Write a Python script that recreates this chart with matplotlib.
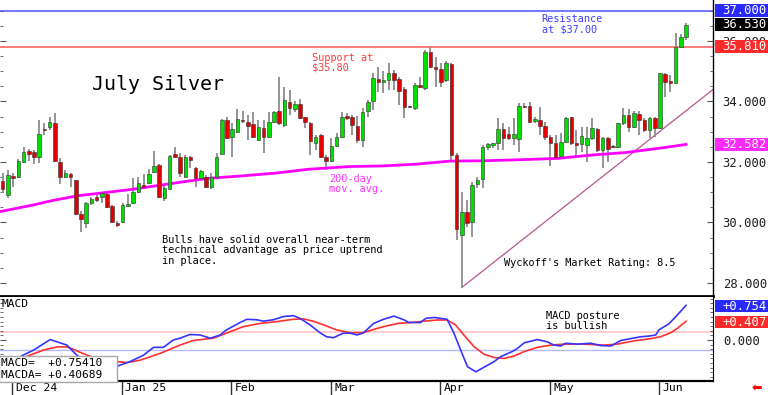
import numpy as np
import matplotlib
matplotlib.use("Agg")
import matplotlib.pyplot as plt
from matplotlib import transforms
from matplotlib.patches import Rectangle
from matplotlib.ticker import FixedLocator, MultipleLocator

# ---------------- data ----------------
opens = [31.38, 30.91, 31.54, 31.49, 32.01, 32.35, 32.33, 32.18, 33.09, 33.17,
         33.28, 32.01, 31.52, 31.59, 31.40, 30.28, 29.97, 30.66, 30.85, 30.83,
         30.94, 30.56, 29.99, 30.01, 30.55, 30.63, 31.02, 31.25, 31.32, 31.67,
         31.90, 30.80, 31.10, 32.25, 32.18, 31.52, 32.18, 31.79, 31.46, 31.52,
         31.18, 31.49, 32.26, 33.39, 32.83, 33.00, 33.37, 33.33, 33.25, 32.73,
         33.11, 32.84, 33.33, 33.70, 33.22, 33.99, 33.74, 33.92, 33.48, 33.30,
         32.64, 32.89, 32.15, 32.04, 32.53, 32.84, 33.52, 33.50, 33.19, 32.73,
         33.70, 34.02, 34.73, 34.66, 34.71, 34.93, 34.73, 34.40, 33.85, 33.77,
         34.55, 34.44, 35.65, 35.15, 35.06, 34.71, 35.24, 32.23, 29.59, 30.36,
         30.03, 31.27, 31.43, 32.51, 32.55, 32.62, 33.08, 32.93, 32.78, 32.76,
         33.86, 33.85, 33.37, 33.39, 33.19, 32.82, 32.64, 32.20, 32.67, 33.48,
         32.62, 32.59, 32.56, 32.78, 33.08, 32.40, 32.78, 32.53, 32.48, 33.28,
         33.55, 33.17, 33.59, 33.39, 33.06, 33.44, 33.11, 34.91, 34.69, 34.62,
         35.79, 36.14]
highs = [31.63, 31.74, 31.65, 32.09, 32.48, 32.42, 32.40, 33.39, 33.28, 33.50,
         33.63, 32.12, 31.74, 31.65, 31.42, 30.39, 30.69, 30.83, 30.91, 31.02,
         30.99, 30.58, 30.06, 30.63, 30.94, 31.46, 31.49, 31.60, 31.78, 32.37,
         31.93, 31.21, 32.23, 32.48, 32.29, 32.23, 32.20, 31.82, 31.75, 31.57,
         31.65, 32.31, 33.41, 33.50, 33.28, 33.74, 33.70, 33.55, 33.66, 33.39,
         33.39, 33.66, 33.70, 34.82, 34.49, 34.38, 34.00, 34.07, 33.50, 33.33,
         32.89, 32.93, 32.23, 32.78, 32.95, 33.66, 33.63, 33.55, 33.52, 33.77,
         34.05, 34.93, 35.13, 35.02, 35.26, 35.04, 34.82, 34.47, 33.86, 34.62,
         34.82, 35.70, 35.79, 35.48, 35.26, 35.35, 35.26, 32.29, 31.02, 30.74,
         31.35, 31.52, 32.56, 32.64, 32.64, 33.44, 33.28, 33.17, 33.44, 33.96,
         33.94, 33.99, 33.50, 33.83, 33.33, 32.89, 32.89, 32.95, 33.50, 33.50,
         33.06, 33.17, 33.17, 33.44, 33.11, 32.84, 32.84, 32.56, 33.30, 33.77,
         33.74, 33.70, 33.70, 33.44, 33.50, 33.50, 34.95, 34.93, 34.88, 36.25,
         36.23, 36.58]
lows = [30.96, 30.80, 31.16, 31.46, 31.98, 32.04, 31.93, 31.98, 32.88, 33.06,
        32.01, 31.26, 31.46, 31.16, 30.25, 29.70, 29.81, 30.58, 30.69, 30.66,
        30.47, 29.97, 29.86, 29.97, 30.52, 30.61, 30.99, 31.10, 31.28, 31.65,
        30.80, 30.72, 31.07, 32.12, 31.52, 31.49, 31.79, 31.18, 31.43, 31.13,
        31.10, 31.43, 32.23, 32.75, 32.18, 32.97, 33.30, 32.73, 32.78, 32.70,
        32.29, 32.78, 33.30, 33.22, 33.17, 33.55, 33.66, 33.41, 33.11, 32.23,
        32.40, 32.12, 31.74, 32.01, 32.51, 32.78, 33.39, 32.89, 32.62, 32.51,
        33.50, 33.72, 34.33, 34.27, 34.38, 34.38, 33.88, 33.44, 33.77, 33.72,
        34.44, 34.38, 35.10, 34.49, 34.49, 34.66, 32.07, 29.42, 27.85, 29.86,
        29.53, 31.13, 31.13, 32.40, 32.45, 32.40, 32.40, 32.73, 32.56, 32.34,
        33.79, 33.28, 33.28, 32.89, 32.73, 31.87, 32.12, 32.15, 32.62, 32.56,
        32.18, 32.34, 31.99, 32.73, 32.34, 31.79, 31.99, 32.45, 32.45, 33.22,
        33.00, 33.11, 32.89, 33.00, 32.78, 32.84, 33.08, 34.14, 34.33, 34.58,
        35.76, 36.03]
closes = [31.10, 31.57, 31.46, 32.03, 32.33, 32.25, 32.18, 32.91, 33.05, 33.31,
          32.03, 31.49, 31.63, 31.52, 30.28, 30.10, 30.63, 30.77, 30.74, 30.96,
          30.50, 30.03, 29.91, 30.58, 30.61, 31.02, 31.29, 31.16, 31.60, 31.87,
          30.83, 31.14, 32.20, 32.18, 31.63, 32.18, 32.07, 31.46, 31.71, 31.18,
          31.52, 32.18, 33.39, 32.78, 33.08, 33.41, 33.35, 33.19, 32.84, 33.15,
          32.84, 33.33, 33.66, 33.28, 34.05, 33.77, 33.92, 33.44, 33.33, 32.71,
          32.84, 32.18, 32.04, 32.53, 32.84, 33.50, 33.45, 33.22, 32.73, 33.66,
          33.99, 34.77, 34.64, 34.71, 34.93, 34.71, 34.36, 33.83, 33.81, 34.55,
          34.49, 35.65, 35.15, 35.07, 34.66, 35.28, 32.23, 29.77, 30.36, 29.99,
          31.24, 31.40, 32.51, 32.60, 32.64, 33.08, 32.78, 32.78, 32.93, 33.85,
          33.83, 33.33, 33.40, 33.19, 32.82, 32.64, 32.18, 32.67, 33.44, 32.62,
          32.57, 32.86, 32.78, 33.11, 32.40, 32.78, 32.42, 32.48, 33.28, 33.55,
          33.17, 33.63, 33.39, 33.06, 33.44, 33.11, 34.93, 34.66, 34.62, 35.79,
          36.12, 36.53]

ma200_idx = [-0.5, 5.9, 9.1, 14.2, 18.7, 25, 34, 39.4, 45.8, 52.2, 58.6, 66.6,
             73, 79.4, 85.8, 92.1, 100.1, 106.5, 112.9, 119.3, 125.7, 131]
ma200_val = [30.36, 30.58, 30.71, 30.88, 30.97, 31.10, 31.33, 31.46, 31.54,
             31.63, 31.76, 31.85, 31.87, 31.93, 32.03, 32.04, 32.08, 32.12,
             32.23, 32.31, 32.45, 32.58]

macd_idx = [1.5, 3.9, 5.9, 9.1, 12.3, 14.2, 16, 18, 20, 21.9, 24.4, 27, 28.9,
            30.8, 32.7, 34, 35.9, 37.8, 39.8, 41.7, 42.9, 45.5, 46.8, 48.7, 50,
            51.9, 53.8, 55.7, 57, 58.9, 60.8, 62.1, 63.4, 65.3, 66.6, 67.9,
            69.1, 71.1, 73.0, 75.0, 76.9, 77.9, 80.1, 81.1, 82.7, 84.6, 85.2,
            86.5, 87.8, 89.1, 90.7, 92.3, 94.2, 95.5, 97.7, 98.7, 100.0, 102.5,
            104.4, 105.7, 107.0, 107.9, 110.2, 112.7, 114.6, 116.6, 118.5,
            120.4, 122.3, 124.2, 125.2, 125.8, 127.7, 129.3, 131]
macd_val = [-0.50, -0.33, -0.22, 0.01, -0.11, -0.33, -0.46, -0.56, -0.60, -0.57,
            -0.47, -0.33, -0.16, -0.16, 0.0, 0.04, 0.12, 0.11, 0.04, 0.11,
            0.22, 0.38, 0.45, 0.44, 0.41, 0.44, 0.51, 0.53, 0.47, 0.33, 0.16,
            0.07, 0.05, 0.15, 0.15, 0.11, 0.15, 0.36, 0.45, 0.52, 0.44, 0.38,
            0.38, 0.47, 0.49, 0.46, 0.45, 0.15, -0.22, -0.58, -0.69, -0.59,
            -0.47, -0.36, -0.25, -0.18, -0.06, 0.01, -0.04, -0.11, -0.13,
            -0.07, -0.09, -0.07, -0.12, -0.13, -0.01, 0.03, 0.07, 0.09, 0.11,
            0.22, 0.35, 0.54, 0.754]
signal_idx = [2.5, 5.2, 7.8, 10.4, 12.3, 13.5, 15.5, 18.0, 21.9, 23.8, 26.3,
              30.2, 34.0, 36.5, 40.4, 42.9, 46.1, 49.3, 52.5, 55.7, 57.6,
              59.5, 61.5, 64.0, 66.6, 69.1, 71.1, 73.0, 75.7, 78.2, 80.8,
              83.3, 85.2, 86.8, 88.4, 90.4, 92.3, 94.2, 96.1, 98.0, 100.0,
              102.5, 105.1, 107.6, 111.4, 115.3, 117.8, 121.0, 124.2, 126.1,
              128.1, 129.3, 131]
signal_val = [-0.45, -0.33, -0.22, -0.15, -0.15, -0.20, -0.30, -0.40, -0.47,
              -0.49, -0.44, -0.29, -0.11, -0.01, 0.04, 0.15, 0.29, 0.36, 0.40,
              0.45, 0.46, 0.41, 0.33, 0.22, 0.16, 0.16, 0.23, 0.29, 0.36,
              0.38, 0.41, 0.435, 0.435, 0.33, 0.11, -0.15, -0.31, -0.38,
              -0.40, -0.35, -0.25, -0.16, -0.11, -0.09, -0.09, -0.11, -0.09,
              -0.02, 0.03, 0.07, 0.16, 0.25, 0.407]

trend_idx = [88, 136.2]
trend_val = [27.85, 34.40]
resistance = 37.00
support = 35.81
last_close = 36.53
ma_last = 32.582
macd_last = 0.754
signal_last = 0.407
macd_hi_ref = 0.174
macd_lo_ref = -0.217

month_idx = [2, 23, 44, 63, 84, 105, 126]
month_lbl = ["Dec 24", "Jan 25", "Feb", "Mar", "Apr", "May", "Jun"]
price_ticks = [28, 30, 32, 34, 36]

# ---------------- figure ----------------
W, H = 768, 395
MONO = "DejaVu Sans Mono"
plt.rcParams["font.family"] = MONO
fig = plt.figure(figsize=(W / 100, H / 100), dpi=100)


def fx(px):
    return px / W


def fy(py):
    return 1 - py / H


ax = fig.add_axes([0, fy(296), fx(713), 296 / H])
ax2 = fig.add_axes([0, fy(381), fx(713), (381 - 297) / H])
XL = (-0.52, 136.17)
for a in (ax, ax2):
    a.set_xlim(*XL)
    a.set_facecolor("white")
ax.set_ylim(27.570, 37.355)
ax2.set_ylim(-0.891, 0.935)

# candles
o = np.array(opens); h = np.array(highs); l = np.array(lows); c = np.array(closes)
x = np.arange(len(c))
green, red = "#00e000", "#e00000"
cols = np.where(c >= o, green, red)
ax.vlines(x, l, h, color="#8c8c8c", lw=1.3, zorder=2)
ax.bar(x, np.maximum(np.abs(c - o), 0.035), bottom=np.minimum(o, c), width=0.68,
       color=cols, edgecolor="#303030", linewidth=0.4, zorder=3)

ax.plot(ma200_idx, ma200_val, color="#ff00ff", lw=2, zorder=2.5)
ax.axhline(resistance, color="#6b6bff", lw=1.3, zorder=1)
ax.axhline(support, color="#ff7070", lw=1.3, zorder=1)
ax.plot(trend_idx, trend_val, color="#b8568e", lw=0.9, zorder=1.5)

# MACD panel
ax2.axhline(macd_hi_ref, color="#ffc4c4", lw=1.2, zorder=1)
ax2.axhline(macd_lo_ref, color="#b8b8ff", lw=1.0, zorder=1)
ax2.plot(signal_idx, signal_val, color="#ff3030", lw=1.2, zorder=3)
ax2.plot(macd_idx, macd_val, color="#3535ff", lw=1.2, zorder=3)

# spines / ticks
for a in (ax, ax2):
    for s in ("left", "top"):
        a.spines[s].set_visible(False)
    a.spines["right"].set_color("black")
ax.spines["bottom"].set_linewidth(2)
ax.spines["right"].set_linewidth(1)
ax2.spines["bottom"].set_linewidth(1.6)
ax.tick_params(axis="x", bottom=False, labelbottom=False)

ax.yaxis.set_major_locator(FixedLocator(price_ticks))
ax.yaxis.set_minor_locator(MultipleLocator(0.5))
ax.set_yticklabels([f"{v:.3f}" for v in price_ticks])
ax.tick_params(axis="y", which="both", left=True, right=True, labelleft=False,
               labelright=True, direction="in", color="#555555")
ax.tick_params(axis="y", which="major", length=4, pad=7, labelsize=8.8,
               labelcolor="#202020")
ax.tick_params(axis="y", which="minor", length=2.5)

ax2.yaxis.set_major_locator(FixedLocator([0.0]))
ax2.yaxis.set_minor_locator(MultipleLocator(0.1))
ax2.set_yticklabels(["0.000"])
ax2.tick_params(axis="y", which="both", left=True, right=True, labelleft=False,
                labelright=True, direction="in", color="#555555")
ax2.tick_params(axis="y", which="major", length=4, pad=7.5, labelsize=8.8,
                labelcolor="#202020")
ax2.tick_params(axis="y", which="minor", length=2)

ax2.set_xticks(np.array(month_idx) - 0.15)
ax2.set_xticklabels(month_lbl)
ax2.tick_params(axis="x", direction="out", length=10, width=1, pad=-8.6,
                labelsize=8.2, color="#333333")
off = transforms.ScaledTranslation(2.5 / 72, 0, fig.dpi_scale_trans)
for lab in ax2.get_xticklabels():
    lab.set_ha("left")
    lab.set_transform(lab.get_transform() + off)

# right-side value boxes
def value_box(a, v, txt, fc, hdata):
    tr = transforms.blended_transform_factory(fig.transFigure, a.transData)
    a.add_patch(Rectangle((fx(714.5), v - hdata / 2), fx(54), hdata, transform=tr,
                          facecolor=fc, edgecolor="none", clip_on=False, zorder=6))
    a.text(fx(722.5), v, txt, transform=tr, color="white", fontsize=8.8,
           va="center", ha="left", zorder=7, clip_on=False)

value_box(ax, resistance, f"{resistance:.3f}", "#2a2aff", 0.43)
value_box(ax, last_close, f"{last_close:.3f}", "#000000", 0.43)
value_box(ax, support, f"{support:.3f}", "#ff2a2a", 0.43)
value_box(ax, ma_last, f"{ma_last:.3f}", "#ff2aff", 0.43)
value_box(ax2, macd_last - 0.02, f"+{macd_last:.3f}", "#2a2aff", 0.26)
value_box(ax2, signal_last - 0.02, f"+{signal_last:.3f}", "#ff2a2a", 0.26)


def ptext(px, py, s, color="black", size=7.4, **kw):
    fig.text(fx(px), fy(py), s, color=color, fontsize=size, ha="left",
             va="baseline", **kw)

ptext(91.5, 90, "July Silver", size=14.4)
ptext(312, 61, "Support at", color="#ff3c3c")
ptext(312, 71, "$35.80", color="#ff3c3c")
ptext(541.5, 22.3, "Resistance", color="#4040ff")
ptext(541.5, 32.3, "at $37.00", color="#4040ff")
ptext(329, 182.3, "200-day", color="#ff30ff")
ptext(329, 192.3, "mov. avg.", color="#ff30ff")
ptext(161.5, 242.7, "Bulls have solid overall near-term")
ptext(161.5, 253.2, "technical advantage as price uptrend")
ptext(161.5, 263.7, "in place.")
ptext(504, 266, "Wyckoff's Market Rating: 8.5")
ptext(546, 319.3, "MACD posture")
ptext(546, 329.3, "is bullish")
ptext(1, 307, "MACD", size=8)

fig.add_artist(Rectangle((fx(-1), fy(382)), fx(118), (382 - 356) / H,
                         transform=fig.transFigure, facecolor="white",
                         edgecolor="#a8a8a8", lw=1, zorder=10))
fig.text(fx(1), fy(366.5), "MACD=  +0.75410", fontsize=8, ha="left",
         va="baseline", zorder=11)
fig.text(fx(1), fy(378.5), "MACDA= +0.40689", fontsize=8, ha="left",
         va="baseline", zorder=11)
fig.text(fx(757), fy(389), "\u2b05", color="#ff0000", fontsize=9, ha="center",
         va="center", family="DejaVu Sans")

fig.savefig("out.png", dpi=100, facecolor="white")
